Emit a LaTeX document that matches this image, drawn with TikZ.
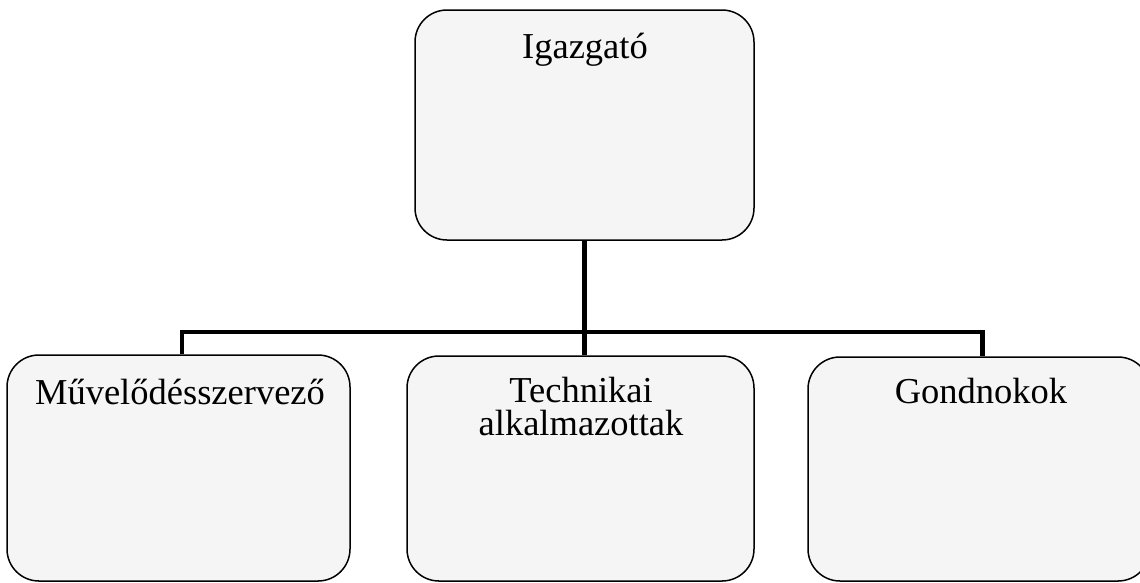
\documentclass[tikz,border=0pt]{standalone}
\usepackage{fontspec}
\setmainfont{Liberation Serif}
\begin{document}
\begin{tikzpicture}[x=1pt,y=-1pt,
  box/.style={draw=black,line width=1.5pt,fill=black!4,rounded corners=32pt,inner sep=0pt},
  lbl/.style={anchor=base,align=center,inner sep=0pt,font=\fontsize{36.5}{33}\selectfont},
  conn/.style={draw=black,line width=4.5pt}]
\clip (0,0) rectangle (1140,582);
\useasboundingbox (0,0) rectangle (1140,582);
\fill[white] (0,0) rectangle (1140,582);
\node[box,minimum width=339pt,minimum height=230pt] (dir) at (584.5,125) {};
\node[box,minimum width=343pt,minimum height=226pt] (muv) at (178.5,468) {};
\node[box,minimum width=347pt,minimum height=225pt] (tech) at (580.5,468.5) {};
\node[box,minimum width=342pt,minimum height=224pt] (gond) at (979,469) {};
\node[lbl] (tdir) at (585,58) {Igazgató};
\node[lbl] (tmuv) at (180,404) {Művelődésszervező};
\node[lbl] (ttech) at (581,402) {Technikai};
\node[lbl] (ttech2) at (581,435) {alkalmazottak};
\node[lbl] (tgond) at (981,403) {Gondnokok};
\coordinate (busL) at (182,332);
\coordinate (busM) at (584.5,332);
\coordinate (busR) at (982.5,332);
\draw[conn] (dir.south) -- (busM);
\draw[conn] (busL |- muv.north) -- (busL) -- (busR) -- (busR |- gond.north);
\draw[conn] (busM) -- (busM |- tech.north);
\end{tikzpicture}
\end{document}
